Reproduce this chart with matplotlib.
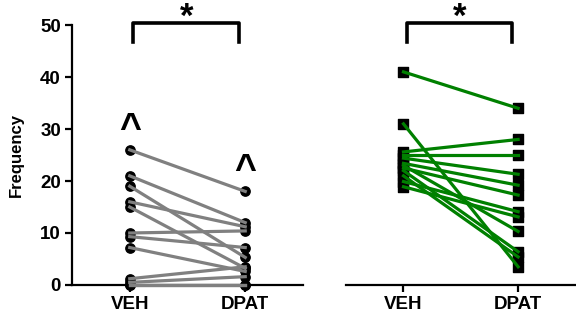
import matplotlib
matplotlib.use("Agg")
import matplotlib.pyplot as plt

plt.rcParams['font.family'] = ['Liberation Sans', 'DejaVu Sans']
plt.rcParams['font.weight'] = 'bold'

groups = ["VEH", "DPAT"]

# left panel, paired values per subject
left_veh = [26, 21, 19, 16, 15, 10, 9.3, 7.2, 1.2, 0.5, 0, 0]
left_dpat = [18, 12, 5.3, 11.2, 3.2, 10.4, 7.2, 2.6, 3.5, 1.6, 0, 0]

# right panel, paired values per subject
right_veh = [41, 31, 25.6, 25, 24.4, 23.4, 22.5, 23, 22, 21, 19.9, 18.9]
right_dpat = [34, 3.5, 28, 25, 21.3, 19.2, 17.3, 10.3, 6.4, 5.4, 14.1, 13.1]

fig = plt.figure(figsize=(5.76, 3.22), dpi=100)
ax1 = fig.add_axes([0.125, 0.115, 0.401, 0.807])
ax2 = fig.add_axes([0.601, 0.115, 0.398, 0.807])


def draw_panel(ax, veh, dpat, color, marker, msize):
    for a, b in zip(veh, dpat):
        ax.plot([0, 1], [a, b], color=color, lw=2.3, zorder=3, clip_on=False)
    ax.scatter([0] * len(veh), veh, s=msize, marker=marker, color='black', zorder=2, clip_on=False)
    ax.scatter([1] * len(dpat), dpat, s=msize, marker=marker, color='black', zorder=2, clip_on=False)
    ax.set_xlim(-0.5, 1.5)
    ax.set_ylim(0, 50)
    ax.set_xticks([0, 1])
    ax.set_xticklabels(groups, fontsize=13.5, fontweight='bold')
    ax.spines['top'].set_visible(False)
    ax.spines['right'].set_visible(False)
    ax.spines['bottom'].set_linewidth(1.6)
    ax.spines['left'].set_linewidth(1.6)
    ax.tick_params(width=1.6, length=5, labelsize=13.5, pad=3)
    # significance bracket
    ax.plot([0.03, 0.03, 0.95, 0.95], [46.8, 50.4, 50.4, 46.8], color='black', lw=2.6,
            clip_on=False, solid_joinstyle='round')
    ax.text(0.49, 49.6, "*", ha='center', va='baseline', fontsize=25, fontweight='bold')


draw_panel(ax1, left_veh, left_dpat, '#808080', 'o', 45)
draw_panel(ax2, right_veh, right_dpat, '#008000', 's', 60)

ax1.set_yticks([0, 10, 20, 30, 40, 50])
ax1.set_ylabel("Frequency", fontsize=12, fontweight='bold', labelpad=12)
ax1.text(0, 27.8, "^", ha='center', va='baseline', fontsize=27, fontweight='bold')
ax1.text(1, 20.0, "^", ha='center', va='baseline', fontsize=27, fontweight='bold')

ax2.spines['left'].set_visible(False)
ax2.set_yticks([])

fig.savefig("out.png", dpi=100)
